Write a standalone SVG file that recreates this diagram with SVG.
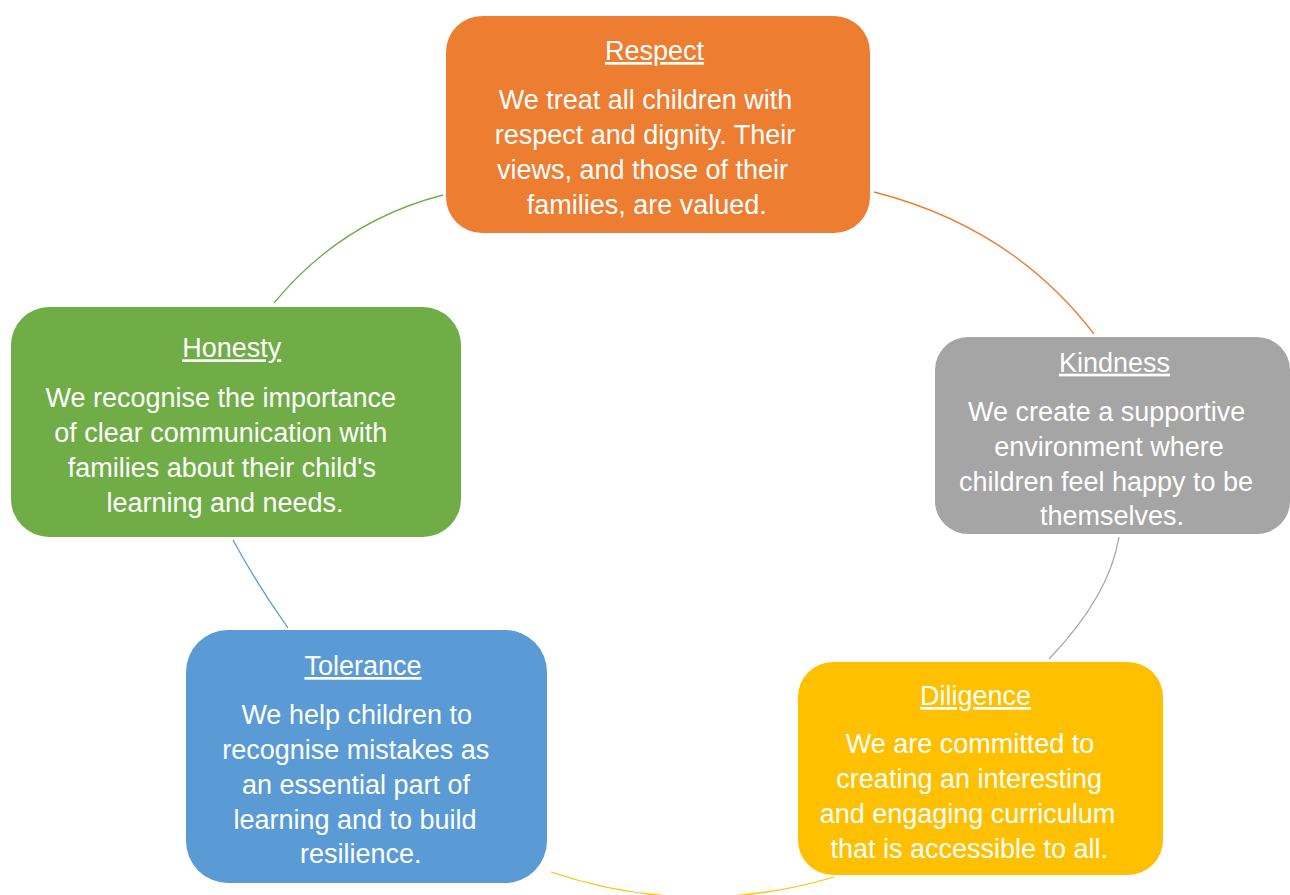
<svg xmlns="http://www.w3.org/2000/svg" width="1290" height="895" viewBox="0 0 1290 895">
<style>
.t{font-family:"Liberation Sans",Arial,sans-serif;font-size:27px;fill:#ffffff;text-anchor:middle}
.h{text-decoration:underline}
.c{fill:none;stroke-width:1.3}
</style>
<rect width="1290" height="895" fill="#ffffff"/>
<g id="connectors">
<path class="c" stroke="#70AD47" d="M274,303 Q341.5,221 443,195"/>
<path class="c" stroke="#ED7D31" d="M874,192 Q1012,227 1094,334"/>
<path class="c" stroke="#A5A5A5" d="M1119,537 Q1109.4,596 1049,659"/>
<path class="c" stroke="#FFC000" d="M834,877 Q691.5,919.5 551,872"/>
<path class="c" stroke="#5B9BD5" d="M288,628 Q256,582.6 233,540"/>
</g>
<g id="respect">
<rect x="446" y="16" width="424" height="217" rx="36" fill="#ED7D31"/>
<text class="t h" x="654.5" y="60">Respect</text>
<text class="t" x="645.5" y="109">We treat all children with</text>
<text class="t" x="645" y="144">respect and dignity. Their</text>
<text class="t" x="642.5" y="179">views, and those of their</text>
<text class="t" x="646.7" y="214">families, are valued.</text>
</g>
<g id="kindness">
<rect x="935" y="337" width="355" height="197" rx="33" fill="#A5A5A5"/>
<text class="t h" x="1114.5" y="371.7">Kindness</text>
<text class="t" x="1106.7" y="420.7">We create a supportive</text>
<text class="t" x="1109" y="456">environment where</text>
<text class="t" x="1106" y="491">children feel happy to be</text>
<text class="t" x="1112" y="525">themselves.</text>
</g>
<g id="diligence">
<rect x="798" y="662" width="365" height="213" rx="35" fill="#FFC000"/>
<text class="t h" x="975.5" y="705">Diligence</text>
<text class="t" x="970" y="753.3">We are committed to</text>
<text class="t" x="969.2" y="788.3">creating an interesting</text>
<text class="t" x="967.5" y="823">and engaging curriculum</text>
<text class="t" x="969.2" y="857.5">that is accessible to all.</text>
</g>
<g id="tolerance">
<rect x="186" y="630" width="361" height="253" rx="42" fill="#5B9BD5"/>
<text class="t h" x="363" y="675">Tolerance</text>
<text class="t" x="356.7" y="724.3">We help children to</text>
<text class="t" x="355.8" y="759">recognise mistakes as</text>
<text class="t" x="356" y="794">an essential part of</text>
<text class="t" x="355" y="828.5">learning and to build</text>
<text class="t" x="360.8" y="863.3">resilience.</text>
</g>
<g id="honesty">
<rect x="11" y="307" width="450" height="230" rx="38" fill="#70AD47"/>
<text class="t h" x="231.7" y="357.3">Honesty</text>
<text class="t" x="220.8" y="407.3">We recognise the importance</text>
<text class="t" x="220.7" y="442.3">of clear communication with</text>
<text class="t" x="221.8" y="476.7">families about their child's</text>
<text class="t" x="225" y="511.7">learning and needs.</text>
</g>
</svg>
